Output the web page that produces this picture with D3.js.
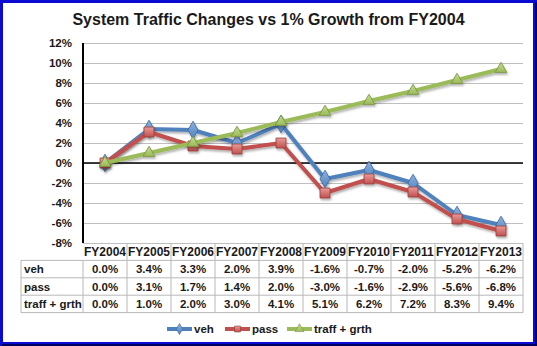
<!DOCTYPE html>
<html>
<head>
<meta charset="utf-8">
<script src="https://cdn.jsdelivr.net/npm/d3@7/dist/d3.min.js"></script>
<style>
  html, body { margin: 0; padding: 0; background: #fff; }
  svg text { font-family: "Liberation Sans", Arial, sans-serif; font-weight: bold; fill: #1a1a1a; }
</style>
</head>
<body>
<div id="chart"></div>
<script>
// fiscal years and the three traffic series (% change vs FY2004)
var years = ["FY2004", "FY2005", "FY2006", "FY2007", "FY2008", "FY2009", "FY2010", "FY2011", "FY2012", "FY2013"];
var veh   = [0.0, 3.4, 3.3, 2.0, 3.9, -1.6, -0.7, -2.0, -5.2, -6.2];
var pass  = [0.0, 3.1, 1.7, 1.4, 2.0, -3.0, -1.6, -2.9, -5.6, -6.8];
var traff = [0.0, 1.0, 2.0, 3.0, 4.1, 5.1, 6.2, 7.2, 8.3, 9.4];
var seriesNames = ["veh", "pass", "traff + grth"];
var yTicks = [12, 10, 8, 6, 4, 2, 0, -2, -4, -6, -8];

var W = 537, H = 346;
var margin = {top: 43, left: 83, right: 14, bottom: 103};
var plotW = W - margin.left - margin.right,
    plotH = H - margin.top - margin.bottom;

var series = [
  {name: seriesNames[0], values: veh,   color: "#4F81BD", light: "#8fb2de", dark: "#3a6599", shape: d3.symbolDiamond, size: 90},
  {name: seriesNames[1], values: pass,  color: "#C0504D", light: "#e99a98", dark: "#963c3a", shape: d3.symbolSquare, size: 100},
  {name: seriesNames[2], values: traff, color: "#9BBB59", light: "#c5dc95", dark: "#76923c", shape: d3.symbolTriangle, size: 60}
];

var svg = d3.select("#chart").append("svg")
    .attr("width", W)
    .attr("height", H);

// soft shadow under lines and markers
var defs = svg.append("defs");
defs.append("filter").attr("id", "shadow")
    .attr("x", "-20%").attr("y", "-20%").attr("width", "140%").attr("height", "140%")
  .append("feDropShadow")
    .attr("dx", 1).attr("dy", 2).attr("stdDeviation", 1.2)
    .attr("flood-color", "#000").attr("flood-opacity", 0.3);

series.forEach(function(s, i) {
  var g = defs.append("linearGradient").attr("id", "grad" + i)
      .attr("x1", 0).attr("y1", 0).attr("x2", 0).attr("y2", 1);
  g.append("stop").attr("offset", "0%").attr("stop-color", s.light);
  g.append("stop").attr("offset", "100%").attr("stop-color", s.color);
});

// outer frame
svg.append("rect").attr("x", 0).attr("y", 0).attr("width", W).attr("height", H).attr("fill", "#0a0ad0");
svg.append("rect").attr("x", 3).attr("y", 3).attr("width", W - 7).attr("height", H - 7).attr("fill", "#fff");
svg.append("rect").attr("x", W - 2).attr("y", 2).attr("width", 2).attr("height", H - 2).attr("fill", "#000060");
svg.append("rect").attr("x", 2).attr("y", H - 2).attr("width", W - 2).attr("height", 2).attr("fill", "#000060");

svg.append("text")
    .attr("x", 268.5).attr("y", 25)
    .attr("text-anchor", "middle")
    .style("font-size", "16px")
    .text("System Traffic Changes vs 1% Growth from FY2004");

var x = d3.scaleBand().domain(years).range([0, plotW]);
var y = d3.scaleLinear().domain([-8, 12]).range([plotH, 0]);

var plot = svg.append("g").attr("transform", "translate(" + margin.left + "," + margin.top + ")");

// gridlines
plot.append("g")
    .call(d3.axisLeft(y).tickValues(yTicks).tickSize(-plotW).tickFormat(""))
    .call(function(g) {
      g.select(".domain").remove();
      g.selectAll("line").attr("stroke", "#bfbfbf").attr("stroke-width", 1);
    });

// tick labels
plot.append("g")
    .call(d3.axisLeft(y).tickValues(yTicks).tickSize(0).tickPadding(11).tickFormat(function(d) { return d + "%"; }))
    .call(function(g) {
      g.select(".domain").remove();
      g.selectAll("text").style("font-size", "11.5px").attr("fill", "#1a1a1a")
        .style("font-family", "'Liberation Sans', Arial, sans-serif").style("font-weight", "bold");
    });

// zero line and vertical axis
plot.append("line").attr("x1", 0).attr("x2", plotW).attr("y1", y(0)).attr("y2", y(0))
    .attr("stroke", "#000").attr("stroke-width", 1.6);
plot.append("line").attr("x1", 0).attr("x2", 0).attr("y1", 0).attr("y2", plotH)
    .attr("stroke", "#000").attr("stroke-width", 2);

var cx = function(i) { return x(years[i]) + x.bandwidth() / 2; };
var line = d3.line().x(function(d, i) { return cx(i); }).y(function(d) { return y(d); });

series.forEach(function(s, si) {
  var g = plot.append("g").attr("filter", "url(#shadow)");
  g.append("path")
      .datum(s.values)
      .attr("d", line)
      .attr("fill", "none")
      .attr("stroke", s.color)
      .attr("stroke-width", 4)
      .attr("stroke-linejoin", "round");
  g.selectAll("path.mark")
      .data(s.values)
      .enter().append("path")
      .attr("class", "mark")
      .attr("d", d3.symbol().type(s.shape).size(s.size))
      .attr("transform", function(d, i) { return "translate(" + cx(i) + "," + y(d) + ")"; })
      .attr("fill", "url(#grad" + si + ")")
      .attr("stroke", s.dark)
      .attr("stroke-width", 0.8);
});

// data table under the plot
var rowH = 17.4;
var tableLeft = 21;
var tableTop = margin.top + plotH;
var table = svg.append("g");
var gridColor = "#b8b8b8";
var tx = function(i) { return margin.left + x(years[i]); };

// header row: column separators only
years.forEach(function(yr, i) {
  if (i > 0) {
    table.append("line").attr("x1", tx(i)).attr("x2", tx(i))
      .attr("y1", tableTop).attr("y2", tableTop + rowH * 4)
      .attr("stroke", gridColor);
  }
  table.append("text")
      .attr("x", tx(i) + x.bandwidth() / 2)
      .attr("y", tableTop + rowH / 2)
      .attr("dy", "0.36em")
      .attr("text-anchor", "middle")
      .style("font-size", "12px")
      .text(yr);
});
table.append("line").attr("x1", W - margin.right).attr("x2", W - margin.right)
    .attr("y1", tableTop).attr("y2", tableTop + rowH * 4).attr("stroke", gridColor);
table.append("line").attr("x1", margin.left).attr("x2", margin.left)
    .attr("y1", tableTop + rowH).attr("y2", tableTop + rowH * 4).attr("stroke", gridColor);
table.append("line").attr("x1", tableLeft).attr("x2", tableLeft)
    .attr("y1", tableTop + rowH).attr("y2", tableTop + rowH * 4).attr("stroke", gridColor);
for (var r = 1; r <= 4; r++) {
  table.append("line").attr("x1", tableLeft).attr("x2", W - margin.right)
      .attr("y1", tableTop + rowH * r).attr("y2", tableTop + rowH * r)
      .attr("stroke", gridColor);
}

series.forEach(function(s, si) {
  var ry = tableTop + rowH * (si + 1) + rowH / 2;
  table.append("text")
      .attr("x", tableLeft + 3).attr("y", ry).attr("dy", "0.36em")
      .style("font-size", "11.5px")
      .text(s.name);
  s.values.forEach(function(v, i) {
    table.append("text")
        .attr("x", tx(i) + x.bandwidth() / 2).attr("y", ry).attr("dy", "0.36em")
        .attr("text-anchor", "middle")
        .style("font-size", "11.5px")
        .text(v.toFixed(1) + "%");
  });
});

// legend
var legendX = [167, 225, 287];
var legendY = 329;
series.forEach(function(s, si) {
  var lg = svg.append("g").attr("transform", "translate(" + legendX[si] + "," + legendY + ")");
  lg.append("line").attr("x1", 0).attr("x2", 25).attr("y1", 0).attr("y2", 0)
      .attr("stroke", s.color).attr("stroke-width", 4);
  lg.append("path")
      .attr("d", d3.symbol().type(s.shape).size(35))
      .attr("transform", "translate(12.5,0)")
      .attr("fill", "url(#grad" + si + ")")
      .attr("stroke", s.dark).attr("stroke-width", 0.6);
  lg.append("text").attr("x", 27).attr("y", 0).attr("dy", "0.36em")
      .style("font-size", "11.5px")
      .text(s.name);
});
</script>
</body>
</html>
